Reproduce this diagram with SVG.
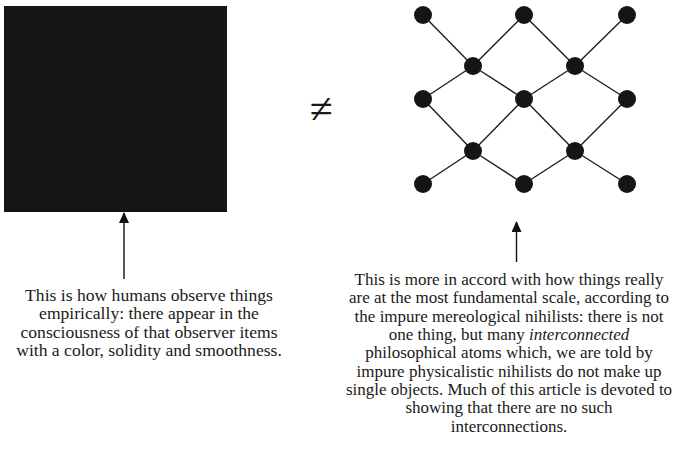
<svg xmlns="http://www.w3.org/2000/svg" width="685" height="452" viewBox="0 0 685 452">
  <style>
    .blk { fill: #151515; }
    .edge { stroke: #1e1e1e; stroke-width: 1.4; fill: none; }
    .arrow { stroke: #111; stroke-width: 1.4; fill: none; }
    .cap { font-family: "Liberation Serif", "Times New Roman", serif; font-size: 17px; fill: #1a1a1a; text-anchor: middle; }
    #caption-left { font-size: 17.6px; }
    .sym { font-family: "Liberation Serif", "DejaVu Serif", serif; font-size: 42px; fill: #1a1a1a; text-anchor: middle; }
  </style>
  <defs>
    <marker id="head" viewBox="0 0 11 10" refX="10" refY="5" markerWidth="11" markerHeight="10" markerUnits="userSpaceOnUse" orient="auto">
      <path d="M11 5 L0 0 L0 10 Z" fill="#111"/>
    </marker>
  </defs>
  <rect width="685" height="452" fill="#fff"/>

  <!-- solid block as perceived -->
  <g id="solid-block">
    <rect class="blk" x="4" y="6" width="223" height="206"/>
  </g>

  <!-- not-equal sign -->
  <g id="not-equal">
    <text class="sym" x="321" y="122.5">≠</text>
  </g>

  <!-- lattice connectors -->
  <g id="connectors">
    <line class="edge" x1="423" y1="15" x2="473" y2="66"/>
    <line class="edge" x1="524" y1="15" x2="473" y2="66"/>
    <line class="edge" x1="524" y1="15" x2="575" y2="66"/>
    <line class="edge" x1="627" y1="15" x2="575" y2="66"/>
    <line class="edge" x1="473" y1="66" x2="423" y2="99"/>
    <line class="edge" x1="473" y1="66" x2="524" y2="99"/>
    <line class="edge" x1="575" y1="66" x2="524" y2="99"/>
    <line class="edge" x1="575" y1="66" x2="627" y2="99"/>
    <line class="edge" x1="423" y1="99" x2="473" y2="151"/>
    <line class="edge" x1="524" y1="99" x2="473" y2="151"/>
    <line class="edge" x1="524" y1="99" x2="575" y2="151"/>
    <line class="edge" x1="627" y1="99" x2="575" y2="151"/>
    <line class="edge" x1="473" y1="151" x2="423" y2="184"/>
    <line class="edge" x1="473" y1="151" x2="524" y2="184"/>
    <line class="edge" x1="575" y1="151" x2="524" y2="184"/>
    <line class="edge" x1="575" y1="151" x2="627" y2="184"/>
    <!-- pointer arrows -->
    <line class="arrow" x1="124" y1="279" x2="124" y2="213" marker-end="url(#head)"/>
    <line class="arrow" x1="516.5" y1="262" x2="516.5" y2="222" marker-end="url(#head)"/>
  </g>

  <!-- lattice atoms -->
  <g id="atoms" class="blk">
    <circle id="a11" cx="423" cy="15" r="9"/>
    <circle id="a12" cx="524" cy="15" r="9"/>
    <circle id="a13" cx="627" cy="15" r="9"/>
    <circle id="a21" cx="473" cy="66" r="9"/>
    <circle id="a22" cx="575" cy="66" r="9"/>
    <circle id="a31" cx="423" cy="99" r="9"/>
    <circle id="a32" cx="524" cy="99" r="9"/>
    <circle id="a33" cx="627" cy="99" r="9"/>
    <circle id="a41" cx="473" cy="151" r="9"/>
    <circle id="a42" cx="575" cy="151" r="9"/>
    <circle id="a51" cx="423" cy="184" r="9"/>
    <circle id="a52" cx="524" cy="184" r="9"/>
    <circle id="a53" cx="627" cy="184" r="9"/>
  </g>

  <!-- captions -->
  <g id="caption-left" class="cap">
    <text x="149" y="300.5">This is how humans observe things</text>
    <text x="149" y="319">empirically: there appear in the</text>
    <text x="149" y="337.5">consciousness of that observer items</text>
    <text x="149" y="356">with a color, solidity and smoothness.</text>
  </g>
  <g id="caption-right" class="cap">
    <text x="509" y="285">This is more in accord with how things really</text>
    <text x="509" y="303.3">are at the most fundamental scale, according to</text>
    <text x="509" y="321.7">the impure mereological nihilists: there is not</text>
    <text x="509" y="340">one thing, but many <tspan font-style="italic">interconnected</tspan></text>
    <text x="509" y="358.3">philosophical atoms which, we are told by</text>
    <text x="509" y="376.7">impure physicalistic nihilists do not make up</text>
    <text x="509" y="395">single objects. Much of this article is devoted to</text>
    <text x="509" y="413.3">showing that there are no such</text>
    <text x="509" y="431.5">interconnections.</text>
  </g>
</svg>
